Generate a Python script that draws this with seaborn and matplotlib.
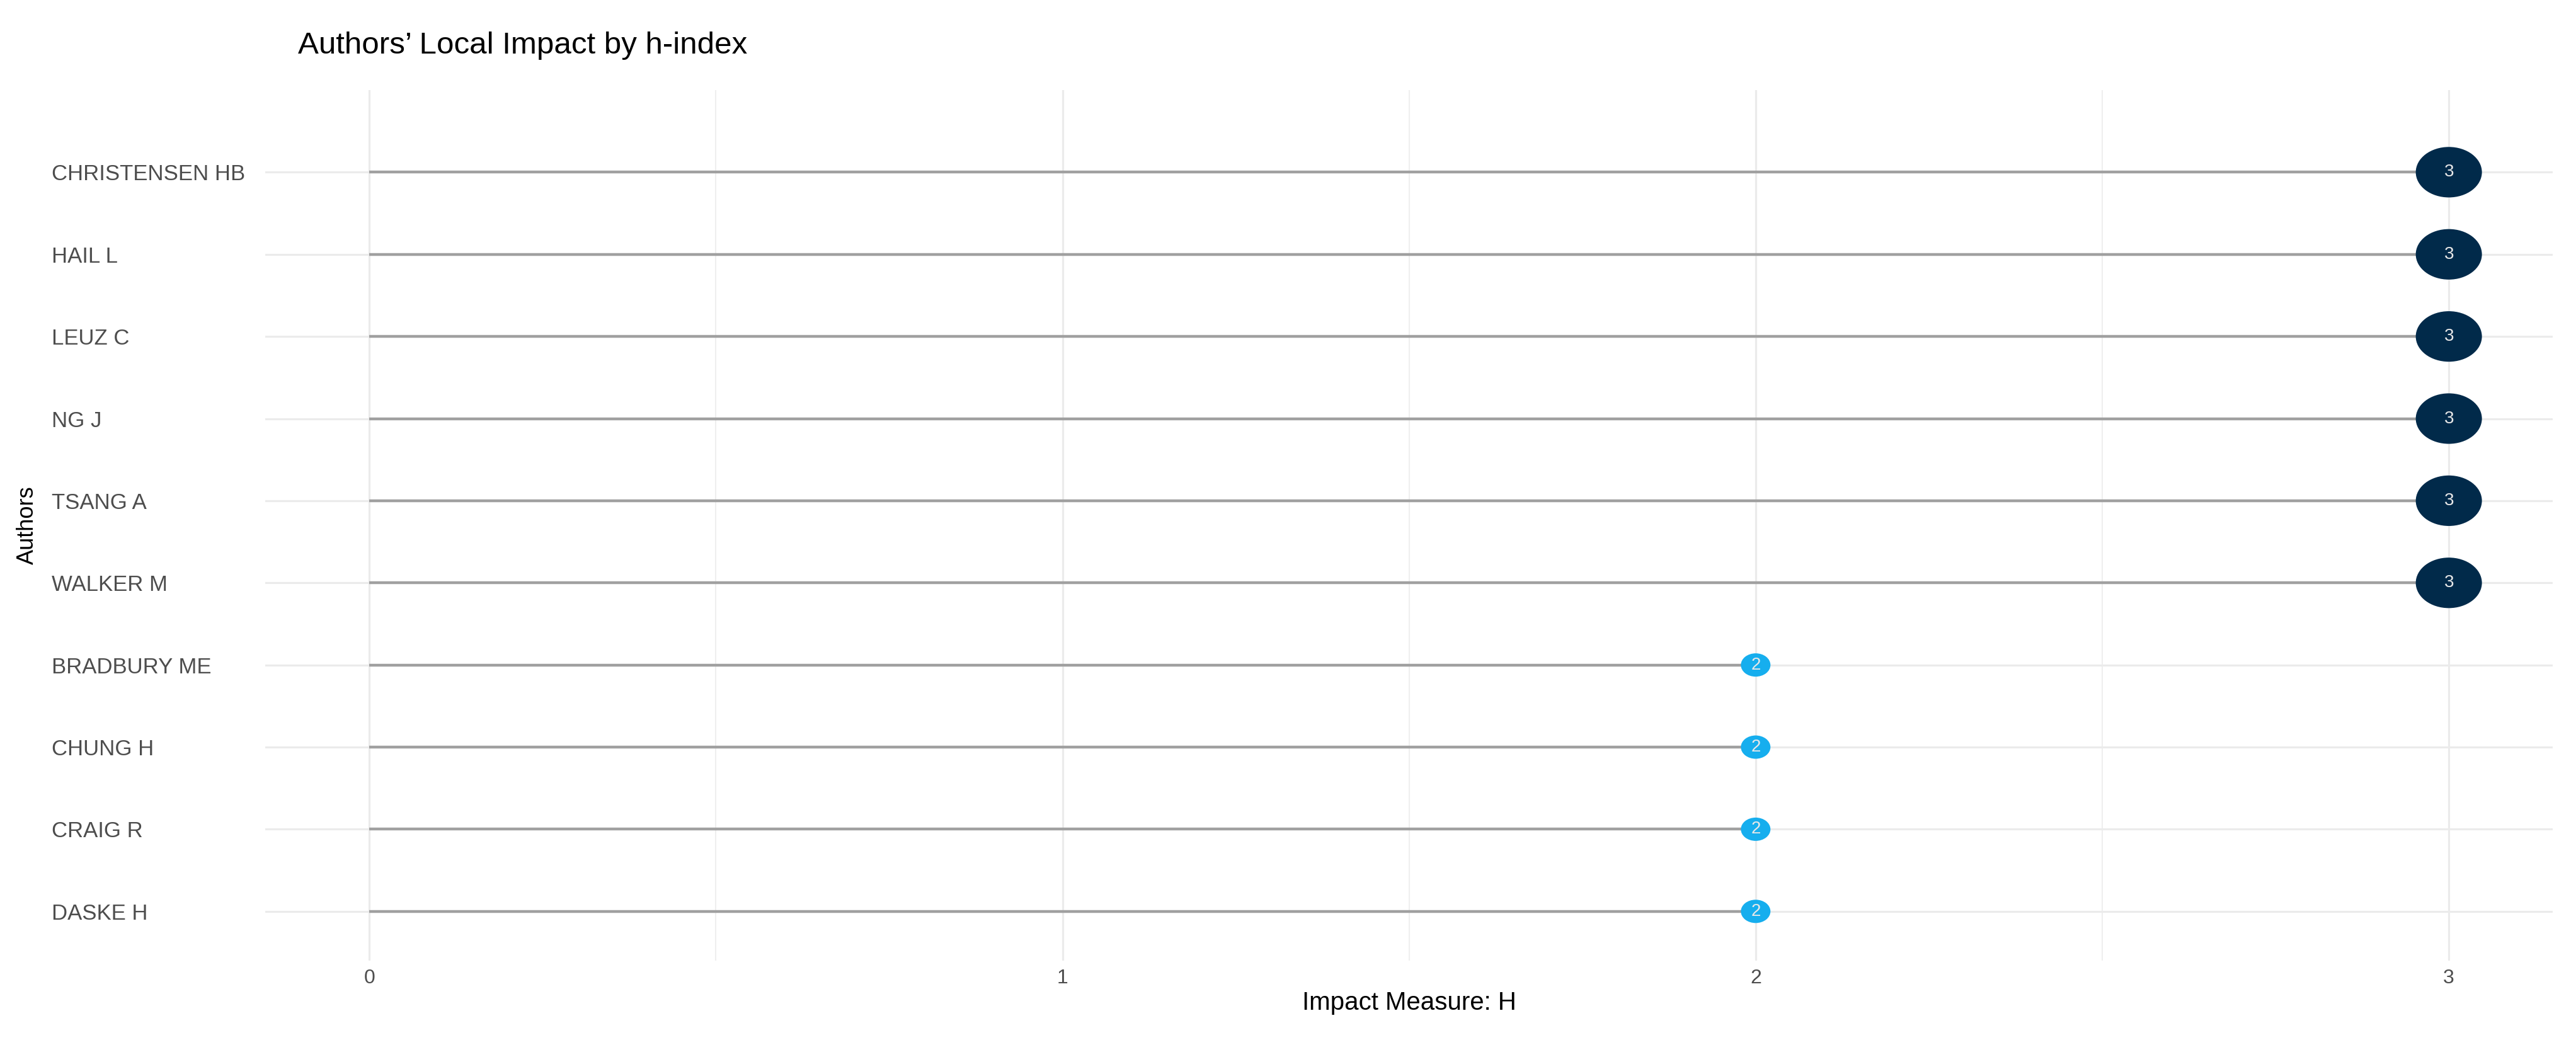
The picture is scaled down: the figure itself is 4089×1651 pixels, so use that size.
import numpy as np
import pandas as pd
import matplotlib
matplotlib.use("Agg")
import matplotlib.pyplot as plt
import seaborn as sns
from matplotlib.path import Path
from matplotlib.transforms import Affine2D

# data
authors = ["CHRISTENSEN HB", "HAIL L", "LEUZ C", "NG J", "TSANG A",
           "WALKER M", "BRADBURY ME", "CHUNG H", "CRAIG R", "DASKE H"]
h_index = [3, 3, 3, 3, 3, 3, 2, 2, 2, 2]
x_ticks = [0, 1, 2, 3]

navy = "#012A4A"
blue = "#16AEEE"

df = pd.DataFrame({"author": authors, "h": h_index})
df["pos"] = np.arange(len(df))

sns.set_style("white")
plt.rcParams["font.family"] = ["Liberation Sans", "DejaVu Sans"]


def ellipse(aspect):
    # ggplot output was stretched sideways, so the dots are ovals
    return Path.unit_circle().transformed(Affine2D().scale(aspect, 1))


fig = plt.figure(figsize=(40.89, 16.51), dpi=100)
ax = fig.add_axes([0.1030, 0.0763, 0.8880, 0.8371])

# grid like theme_minimal
ax.set_xticks(x_ticks)
ax.set_xticks([0.5, 1.5, 2.5], minor=True)
ax.set_yticks(df["pos"])
ax.grid(which="major", color="#EBEBEB", linewidth=2.3)
ax.grid(which="minor", axis="x", color="#EFEFEF", linewidth=1.5)
ax.set_axisbelow(True)

# stems
ax.hlines(df["pos"], 0, df["h"], color="#A0A0A0", linewidth=3.2, zorder=2)

sns.scatterplot(data=df, x="h", y="pos", hue="h",
                palette={3: navy, 2: blue},
                size="h", sizes={2: 1144, 3: 5715},
                style="h", markers={2: ellipse(1.27), 3: ellipse(1.31)},
                linewidth=0, legend=False, zorder=3, ax=ax)

for _, r in df.iterrows():
    ax.text(r["h"], r["pos"], str(r["h"]), ha="center", va="center",
            fontsize=20, color="#E8E8E8", zorder=4)

ax.set_xlim(-0.15, 3.15)
ax.set_ylim(9.6, -1.0)

ax.set_yticklabels(authors, ha="left", color="#4D4D4D", fontsize=25)
ax.set_xticklabels([str(t) for t in x_ticks], color="#4D4D4D", fontsize=23)
ax.tick_params(axis="y", length=0, pad=244)
ax.tick_params(axis="x", length=0, pad=9)

ax.set_xlabel("Impact Measure: H", fontsize=29, color="black", labelpad=4)
ax.set_ylabel("Authors", fontsize=26, color="black")
ax.yaxis.set_label_coords(-0.0991, 0.5)

sns.despine(left=True, bottom=True)

fig.text(0.1157, 1 - 85 / 1651, "Authors\u2019 Local Impact by h-index",
         fontsize=35.5, color="black", ha="left", va="baseline")

fig.savefig("out.png", dpi=100)
